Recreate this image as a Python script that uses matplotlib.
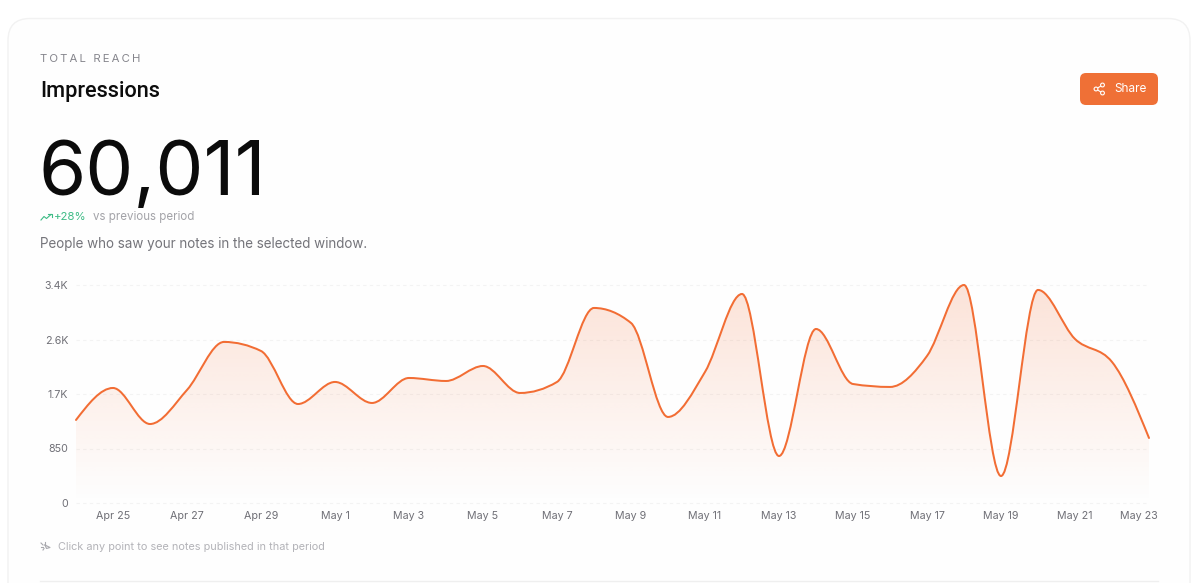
import numpy as np
import matplotlib
matplotlib.use("Agg")
import matplotlib.pyplot as plt
from matplotlib.patches import FancyBboxPatch, PathPatch, Circle
from matplotlib.path import Path
from matplotlib.transforms import ScaledTranslation

days = ["Apr 24","Apr 25","Apr 26","Apr 27","Apr 28","Apr 29","Apr 30","May 1","May 2","May 3",
        "May 4","May 5","May 6","May 7","May 8","May 9","May 10","May 11","May 12","May 13",
        "May 14","May 15","May 16","May 17","May 18","May 19","May 20","May 21","May 22","May 23"]
impressions = [1295,1794,1232,1763,2512,2371,1544,1888,1560,1950,
               1903,2137,1716,1888,3042,2808,1342,2044,3260,733,
               2714,1856,1810,2293,3400,421,3323,2558,2200,1014]
y_ticks = [0,850,1700,2550,3400]
y_tick_labels = ["0","850","1.7K","2.6K","3.4K"]

ORANGE = "#F26D34"
plt.rcParams['font.family'] = ['Inter','DejaVu Sans']
W,H = 1204,583
fig = plt.figure(figsize=(W/100,H/100),dpi=100,facecolor="#ffffff")

ov = fig.add_axes([0,0,1,1]); ov.set_xlim(0,W); ov.set_ylim(H,0); ov.axis("off")
ov.add_patch(FancyBboxPatch((8,18.5),1182,640,boxstyle="round,pad=0,rounding_size=22",
                            fc="#fefefe",ec="#f2f2f2",lw=1.0))
ov.text(40,58.5,"\u2009".join("TOTAL REACH"),fontsize=8.2,color="#85858c",va="center",ha="left")
ov.text(40,91,"Impressions",fontsize=15.7,color="#0c0c0c",va="center",ha="left",
        family=['Roboto','DejaVu Sans'],fontweight="medium")
ov.text(38.5,175,"60,011",fontsize=55,color="#0b0b0b",va="center",ha="left")
ov.text(54,216.5,"+28%",fontsize=8.2,color="#3dbb85",va="center",ha="left")
ov.text(93,217,"vs previous period",fontsize=8.3,color="#a3a3a8",va="center",ha="left")
ov.text(40,244,"People who saw your notes in the selected window.",fontsize=9.7,color="#74747a",va="center",ha="left")
ov.text(58,547.5,"Click any point to see notes published in that period",fontsize=7.85,color="#b3b3b8",va="center",ha="left")
ov.plot([40,1158],[580.5,580.5],color="#efefef",lw=1)

# trend icon
ov.plot([41,44,46.5,51],[220,216.5,218.5,214.5],color="#3dbb85",lw=.8)
ov.plot([48,51.5,51.5],[214.2,214.2,217],color="#3dbb85",lw=.8)
# sparkle icon
for a,b,c,d in [(41,543,43,545),(45,541.5,45,543.5),(41,547,43,547),(43,550,44,548.5)]:
    ov.plot([a,c],[b,d],color="#a9a9ae",lw=.8)
ov.plot([45,50,46.5,45],[545,547.5,548.5,545],color="#a9a9ae",lw=.8)

# share button
BTN = "#EF7036"
ov.add_patch(FancyBboxPatch((1080,73),78,32,boxstyle="round,pad=0,rounding_size=6",fc=BTN,ec="none"))
ov.text(1114,88.7,"Share",fontsize=8.5,color="#ffffff",va="center",ha="left")
ov.plot([1102.5,1096,1102.5],[85,89,93],color="white",lw=.8)
for cx,cy in [(1102.5,85),(1096,89),(1102.5,93)]:
    ov.add_patch(Circle((cx,cy),1.9,fc=BTN,ec="white",lw=.8,zorder=4))

# chart
x0,x1,y_top,y_bot = 76,1149,285,503
ax = fig.add_axes([x0/W,1-y_bot/H,(x1-x0)/W,(y_bot-y_top)/H])
ax.patch.set_alpha(0)
x = np.arange(len(impressions),dtype=float)
y = np.array(impressions,dtype=float)

def monotone_path(x,y):
    """Bezier path with d3 curveMonotoneX tangents."""
    h = np.diff(x); s = np.diff(y)/h
    t = np.zeros_like(y)
    for i in range(1,len(y)-1):
        p = (s[i-1]*h[i]+s[i]*h[i-1])/(h[i-1]+h[i])
        t[i] = (np.sign(s[i-1])+np.sign(s[i]))*min(abs(s[i-1]),abs(s[i]),0.5*abs(p))
    t[0] = (3*s[0]-t[1])/2
    t[-1] = (3*s[-1]-t[-2])/2
    v=[(x[0],y[0])]; c=[Path.MOVETO]
    for i in range(len(h)):
        d=h[i]/3
        v += [(x[i]+d,y[i]+d*t[i]),(x[i+1]-d,y[i+1]-d*t[i+1]),(x[i+1],y[i+1])]
        c += [Path.CURVE4]*3
    return v,c

v,c = monotone_path(x,y)
ymax = y_ticks[-1]
rgba = np.zeros((256,2,4))
rgba[...,:3] = matplotlib.colors.to_rgb(ORANGE)
rgba[...,3] = np.linspace(0.19,0.0,256)[:,None]
im = ax.imshow(rgba,extent=(x[0],x[-1],0,ymax),origin="upper",aspect="auto",zorder=1,interpolation="bilinear")
fill = Path(v+[(x[-1],0),(x[0],0),(x[0],y[0])],c+[Path.LINETO,Path.LINETO,Path.LINETO])
clip = PathPatch(fill,transform=ax.transData,fc="none",ec="none")
ax.add_patch(clip); im.set_clip_path(clip)
ax.add_patch(PathPatch(Path(v,c),fc="none",ec=ORANGE,lw=1.45,zorder=3,capstyle="round",clip_on=False))

ax.set_xlim(x[0],x[-1]); ax.set_ylim(0,ymax)
for s_ in ax.spines.values(): s_.set_visible(False)
ax.set_yticks(y_ticks); ax.set_yticklabels(y_tick_labels)
tick_idx = list(range(1,len(days),2))
ax.set_xticks(tick_idx); ax.set_xticklabels([days[i] for i in tick_idx])
ax.tick_params(axis="both",length=0,labelsize=7.7,labelcolor="#6f6f76")
ax.tick_params(axis="x",pad=6); ax.tick_params(axis="y",pad=5.5)
ax.grid(axis="y",color="#f3f3f3",lw=.8,ls=(0,(3,3)),zorder=0,clip_on=False)
ax.set_axisbelow(True)
lab = ax.get_xticklabels()[-1]
lab.set_transform(lab.get_transform()+ScaledTranslation(-10/100,0,fig.dpi_scale_trans))

fig.savefig("out.png",dpi=100,facecolor=fig.get_facecolor())
